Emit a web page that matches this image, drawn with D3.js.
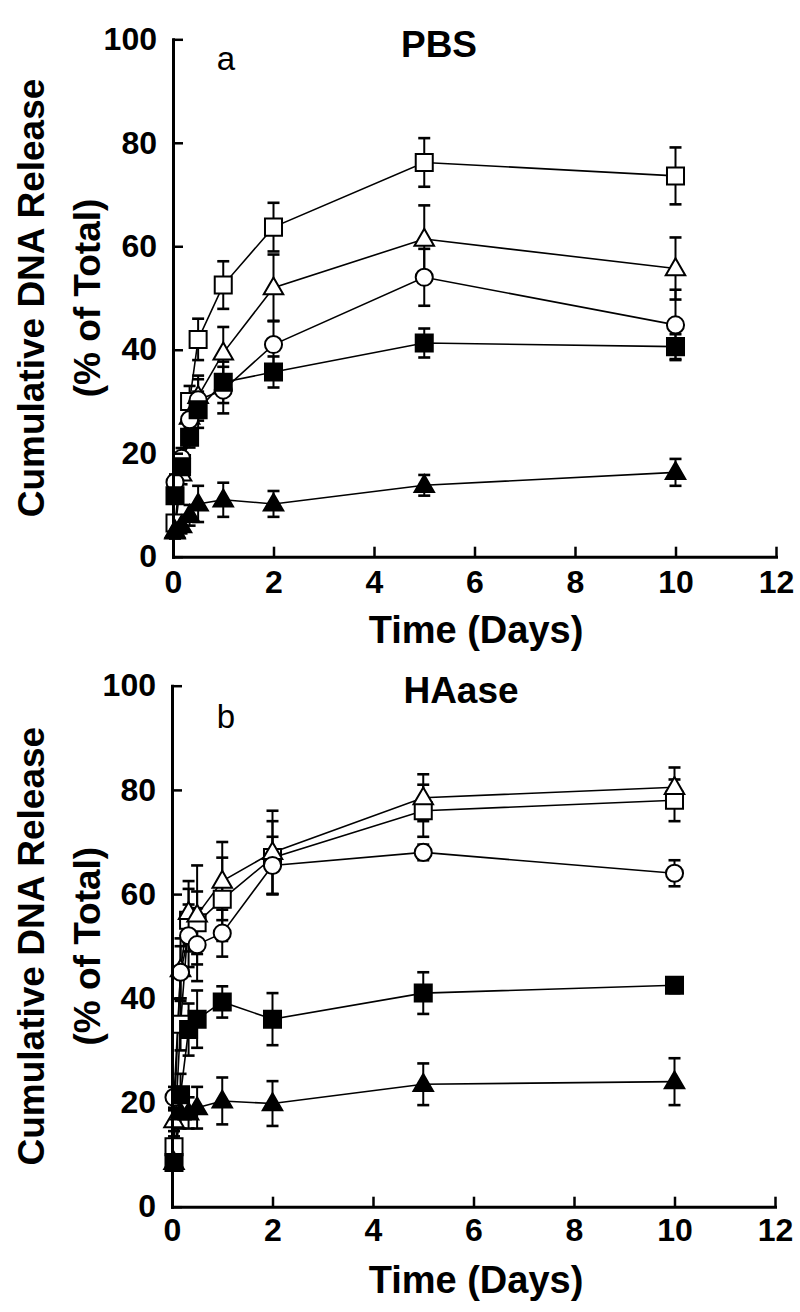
<!DOCTYPE html>
<html><head><meta charset="utf-8">
<script src="https://cdn.jsdelivr.net/npm/d3@7"></script>
<style>body{margin:0;background:#fff}svg{display:block}</style>
</head><body>
<script>
// ---------- data ----------
const days = [0.04, 0.17, 0.33, 0.5, 1, 2, 5, 10];
const xTicks = [0, 2, 4, 6, 8, 10, 12];
const yTicks = [0, 20, 40, 60, 80, 100];
const panelTitles = ["PBS", "HAase"];
const panelLetters = ["a", "b"];
const xTitle = "Time (Days)";
const yTitle1 = "Cumulative DNA Release";
const yTitle2 = "(% of Total)";

// PBS (panel a)
const pbsOpenSquare    = [6.5, 18, 30, 42, 52.5, 63.7, 76.2, 73.6];
const pbsOpenSquareErr = [1.5, 2, 3, 4, 4.6, 4.7, 4.7, 5.5];
const pbsOpenTriangle    = [5, 16, 27, 31, 39.4, 52, 61.4, 55.7];
const pbsOpenTriangleErr = [1.5, 2, 3, 4, 5, 6.4, 6.5, 6];
const pbsOpenCircle    = [14.4, 19, 26.5, 30.3, 32.2, 41, 54, 44.8];
const pbsOpenCircleErr = [1.5, 2, 3, 4, 4.5, 4.5, 5.5, 6.8];
const pbsFilledSquare    = [11.8, 17.4, 23.1, 28.4, 33.7, 35.7, 41.3, 40.6];
const pbsFilledSquareErr = [1.5, 2, 2, 3.5, 4, 3, 2.8, 2.4];
const pbsFilledTriangle    = [4.8, 6, 8, 10.2, 11, 10.2, 13.8, 16.3];
const pbsFilledTriangleErr = [1, 1.5, 2, 3.5, 3.3, 2.5, 2, 2.6];

// HAase (panel b)
const haOpenSquare    = [11.5, 35, 55, 54.5, 59, 67, 76, 78];
const haOpenSquareErr = [2, 5, 6, 6, 8, 7, 5, 4];
const haOpenTriangle    = [16.5, 45.5, 56.5, 56, 62.5, 68, 78.5, 80.5];
const haOpenTriangleErr = [2, 6, 6, 9.5, 7.5, 8, 4.5, 3.8];
const haOpenCircle    = [21, 45, 52, 50.3, 52.5, 65.5, 68, 64];
const haOpenCircleErr = [2, 5, 6, 7, 4.5, 5.5, 1.5, 2.5];
const haFilledSquare    = [8.5, 21.5, 34, 36, 39.3, 36, 41, 42.5];
const haFilledSquareErr = [1.5, 4, 5, 5.5, 3, 5, 4, 1.5];
const haFilledTriangle    = [8.5, 18, 18, 19, 20.3, 19.8, 23.5, 24];
const haFilledTriangleErr = [1.5, 3, 3, 4, 4.5, 4.3, 4, 4.5];

const markerTypes = ["openSquare", "openTriangle", "openCircle", "filledSquare", "filledTriangle"];
const pbsSeries = [
  [pbsOpenSquare, pbsOpenSquareErr], [pbsOpenTriangle, pbsOpenTriangleErr],
  [pbsOpenCircle, pbsOpenCircleErr], [pbsFilledSquare, pbsFilledSquareErr],
  [pbsFilledTriangle, pbsFilledTriangleErr]];
const haSeries = [
  [haOpenSquare, haOpenSquareErr], [haOpenTriangle, haOpenTriangleErr],
  [haOpenCircle, haOpenCircleErr], [haFilledSquare, haFilledSquareErr],
  [haFilledTriangle, haFilledTriangleErr]];

// ---------- drawing ----------
const FONT = "'Liberation Sans', Arial, Helvetica, sans-serif";
const svg = d3.select("body").append("svg").attr("width", 800).attr("height", 1312);

const layouts = [
  {x0: 173, x1: 776, y0: 556.7, y1: 39.3, xPad: 14, titleX: 439, titleY: 57, letterX: 226, letterY: 70},
  {x0: 172, x1: 775, y0: 1206.7, y1: 685.7, xPad: 12, titleX: 461, titleY: 703, letterX: 226, letterY: 728}
];

const symbolOf = {
  openSquare: [d3.symbolSquare, 290, "#fff"],
  filledSquare: [d3.symbolSquare, 290, "#000"],
  openCircle: [d3.symbolCircle, 230, "#fff"],
  openTriangle: [d3.symbolTriangle, 165, "#fff"],
  filledTriangle: [d3.symbolTriangle, 165, "#000"]
};

function drawPanel(p, seriesList, L) {
  const x = d3.scaleLinear().domain([0, 12]).range([L.x0, L.x1]);
  const y = d3.scaleLinear().domain([0, 100]).range([L.y0, L.y1]);
  const g = svg.append("g");

  const series = seriesList.map((s, k) => ({
    type: markerTypes[k],
    pts: days.map((d, i) => ({x: d, v: s[0][i], e: s[1][i]}))
  }));

  const line = d3.line().x(d => x(d.x)).y(d => y(d.v));
  // connecting lines
  g.append("g").selectAll("path").data(series).join("path")
    .attr("d", s => line(s.pts)).attr("fill", "none")
    .attr("stroke", "#000").attr("stroke-width", 1.6);

  // error bars
  const eb = g.append("g").attr("stroke", "#000");
  series.forEach(s => {
    s.pts.forEach(d => {
      const cx = x(d.x), yt = y(d.v + d.e), yb = y(d.v - d.e);
      eb.append("line").attr("x1", cx).attr("x2", cx).attr("y1", yt).attr("y2", yb).attr("stroke-width", 2);
      eb.append("line").attr("x1", cx - 6).attr("x2", cx + 6).attr("y1", yt).attr("y2", yt).attr("stroke-width", 2.6);
      eb.append("line").attr("x1", cx - 6).attr("x2", cx + 6).attr("y1", yb).attr("y2", yb).attr("stroke-width", 2.6);
    });
  });

  // markers
  series.forEach(s => {
    const [t, size, fill] = symbolOf[s.type];
    g.append("g").selectAll("path").data(s.pts).join("path")
      .attr("d", d3.symbol().type(t).size(size))
      .attr("transform", d => `translate(${x(d.x)},${y(d.v) + (t === d3.symbolTriangle ? 1 : 0)})`)
      .attr("fill", fill).attr("stroke", "#000").attr("stroke-width", 2);
  });

  // axes
  const xa = g.append("g").attr("transform", `translate(0,${L.y0})`)
    .call(d3.axisBottom(x).tickValues(xTicks).tickSizeInner(-10).tickSizeOuter(0).tickPadding(L.xPad));
  const ya = g.append("g").attr("transform", `translate(${L.x0},0)`)
    .call(d3.axisLeft(y).tickValues(yTicks).tickSizeInner(-10).tickSizeOuter(0).tickPadding(16));
  [xa, ya].forEach(a => {
    a.select(".domain").attr("stroke-width", 3).attr("stroke-linecap", "square");
    a.selectAll(".tick line").attr("stroke-width", 2.5);
    a.selectAll("text").attr("font-family", FONT).attr("font-size", 32)
      .attr("font-weight", "bold").attr("fill", "#000");
  });

  // titles
  g.append("text").attr("x", L.titleX).attr("y", L.titleY).attr("text-anchor", "middle")
    .attr("font-family", FONT).attr("font-size", 37).attr("font-weight", "bold").text(panelTitles[p]);
  g.append("text").attr("x", L.letterX).attr("y", L.letterY).attr("text-anchor", "middle")
    .attr("font-family", FONT).attr("font-size", 33).text(panelLetters[p]);
  g.append("text").attr("x", 476).attr("y", L.y0 + 86).attr("text-anchor", "middle")
    .attr("font-family", FONT).attr("font-size", 38).attr("font-weight", "bold").text(xTitle);
  const cy = (L.y0 + L.y1) / 2;
  g.append("text").attr("transform", `translate(44,${cy}) rotate(-90)`).attr("text-anchor", "middle")
    .attr("font-family", FONT).attr("font-size", 37).attr("font-weight", "bold").text(yTitle1);
  g.append("text").attr("transform", `translate(100,${cy}) rotate(-90)`).attr("text-anchor", "middle")
    .attr("font-family", FONT).attr("font-size", 37).attr("font-weight", "bold").text(yTitle2);
}

drawPanel(0, pbsSeries, layouts[0]);
drawPanel(1, haSeries, layouts[1]);
</script>
</body></html>
